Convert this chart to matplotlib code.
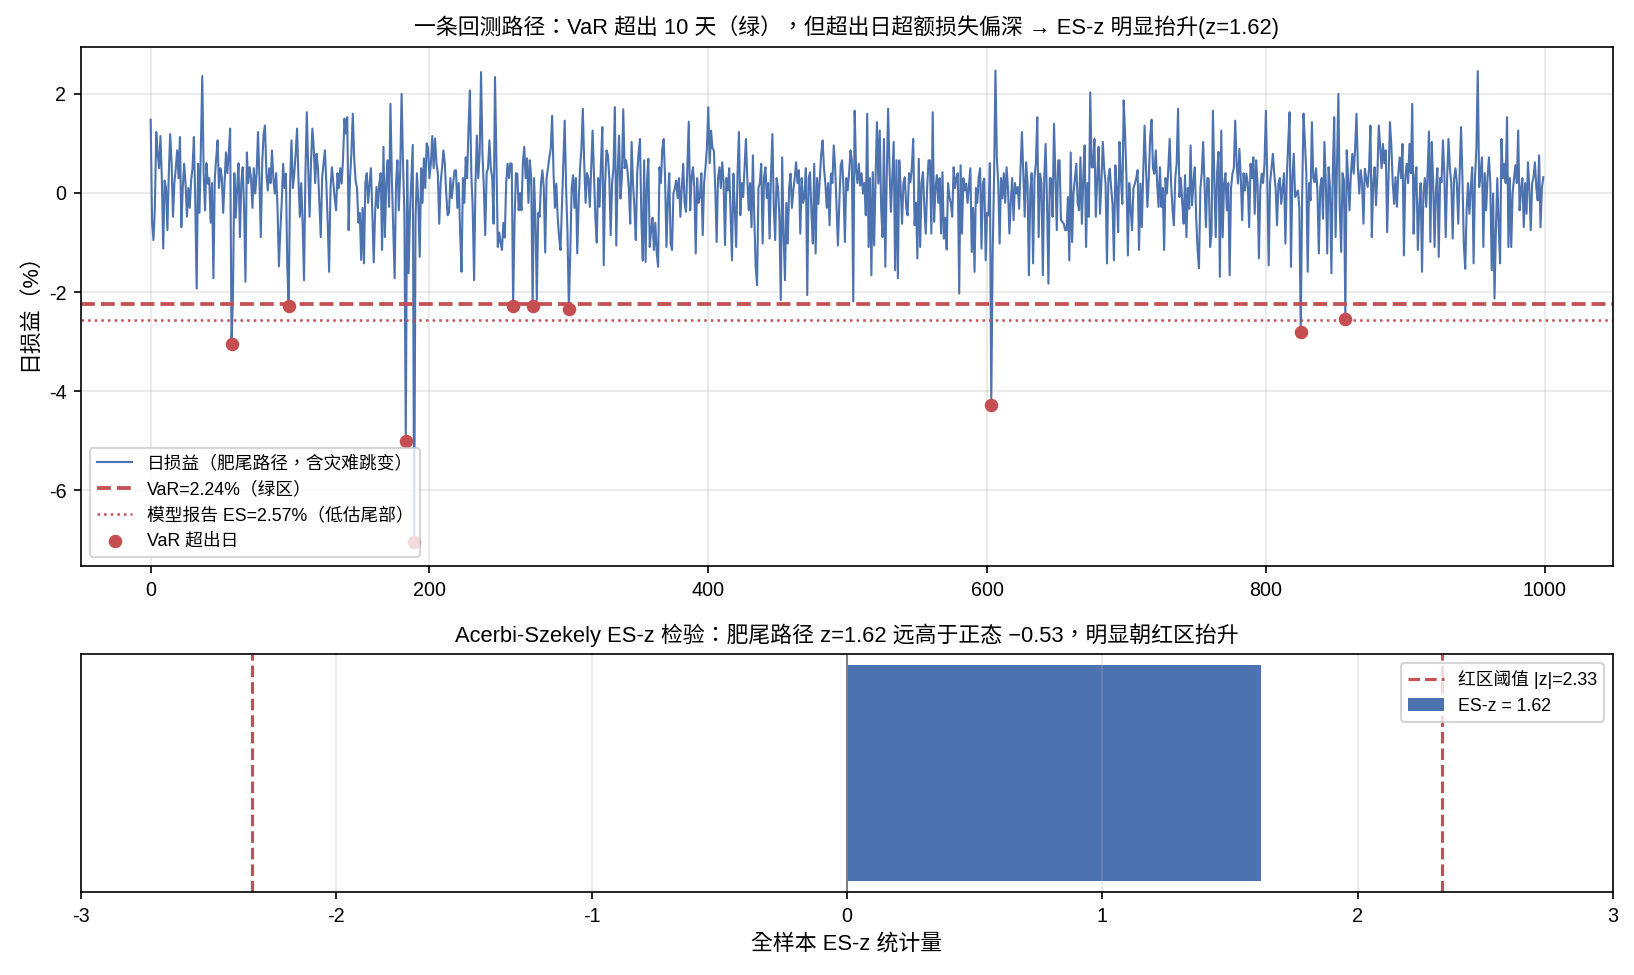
import numpy as np
import matplotlib
matplotlib.use("Agg")
import matplotlib.pyplot as plt

plt.rcParams['font.family'] = ['Liberation Sans', 'Noto Sans CJK TC', 'DejaVu Sans']
plt.rcParams['axes.unicode_minus'] = False

# ---------------- data ----------------
daily_pnl = [
    1.48, -0.6, -0.95, -0.3, 1.23, 0.8, 0.5, 1.15, 0.3, -1.12,
    0.25, 0.1, -0.75, 0.4, 1.19, 0.6, -0.48, 0.2, 0.5, 0.86,
    0.3, 1.13, -0.69, 0.1, 0.59, 0.2, -0.48, 0.1, -0.3, 0.25,
    0.5, 1.13, -0.2, -1.93, 0.59, -0.4, 0.9, 2.36, 0.4, -0.35,
    0.6, 0.19, 0.3, -0.6, 0.2, -1.72, 0.3, 0.7, 1.06, 0.1,
    0.5, 0.32, -0.4, 0.2, 0.82, 0.4, 0.8, 1.3, -3.05, -2.1,
    0.4, -0.5, 0.09, 0.6, -0.89, 0.2, 0.52, -0.3, -1.79, 0.82,
    0.2, 0.52, 0.3, -0.3, 0.5, -0.01, 0.4, 1.23, 0.3, -0.89,
    0.6, 1.19, 1.36, 0.4, 0.05, 0.5, 0.2, 0.86, 0.3, -0.01,
    0.4, -0.3, -1.48, -0.75, -0.2, 0.59, 0.1, 0.39, -1.5, -2.27,
    0.2, 1.06, 0.1, 0.39, 0.8, 1.3, 0.3, -0.48, 0.2, -0.6,
    -1.76, 0.4, 1.63, 0.5, -0.48, 0.6, 1.3, 0.9, 0.2, 0.79,
    0.5, -0.2, -0.89, 0.3, 0.6, 0.86, 0.2, -0.6, -1.59, 0.1,
    0.52, 0.2, -0.1, -0.35, 0.4, 0.1, 0.5, 0.19, 0.7, 1.5,
    1.2, 1.53, -0.75, 0.3, 0.8, 1.6, 0.7, 0.25, 0.1, -0.6,
    -0.4, -1.35, -0.3, -1.42, 0.2, 0.4, -0.2, 0.19, 0.5, -0.4,
    -1.4, -0.4, 0.12, -0.3, 0.19, 0.4, -1.15, 0.93, -0.89, 0.2,
    0.66, -0.28, 1.8, 0.3, -0.75, -1.72, 0.2, 0.66, -0.35, 0.46,
    2.0, 0.6, -0.4, -5.0, 0.66, -1.62, -0.4, 0.3, 0.97, -7.05,
    -0.5, 0.4, -0.2, -1.29, 0.5, -0.2, 0.7, 0.1, 1.0, 0.9,
    0.3, 0.6, 1.15, 0.5, 1.1, 0.6, 0.4, -0.62, 0.2, 0.5,
    0.86, 0.6, 0.0, -0.45, -0.4, 0.3, -0.1, 0.2, 0.45, 0.46,
    -0.3, 0.2, -0.8, -1.59, 0.3, -0.2, 0.72, 0.3, 1.3, 2.07,
    0.4, -0.3, -1.76, 0.2, 1.16, 0.3, 0.8, 2.44, 0.8, 0.1,
    -0.85, 0.4, 0.5, 1.06, 0.5, 0.3, -0.62, 2.34, 0.7, -1.09,
    -0.8, -1.0, -1.15, -0.6, -0.9, 0.2, 0.59, 0.3, 0.6, 0.59,
    -2.27, -0.6, 0.4, 0.39, -0.35, 0.0, -0.35, 0.6, 0.93, 0.3,
    0.7, -0.2, 0.66, 0.3, -2.27, 0.3, -0.5, -2.16, -0.4, -0.48,
    0.2, 0.46, 0.1, -1.2, 0.3, 0.5, 0.72, 0.9, 1.56, 0.4,
    -0.3, 0.19, -0.5, -0.9, -1.15, -0.3, 0.5, 1.46, 0.1, -0.8,
    -2.34, -1.2, 0.1, 0.36, -0.3, 0.3, -1.22, -0.2, 0.5, 0.9,
    1.7, 0.6, -0.2, 0.4, 0.3, -0.28, 0.5, 1.26, 0.4, -0.5,
    -1.0, 0.3, -0.28, 0.6, 1.33, -1.46, 0.2, 0.86, 0.76, 0.3,
    -0.85, 0.2, 0.5, 1.73, -1.06, 0.4, 1.16, -0.11, 0.3, 1.69,
    0.5, 0.66, 0.46, 0.1, -0.62, 1.03, 0.19, -0.3, -0.95, 0.4,
    0.8, 1.09, -0.5, -1.36, 0.66, -1.39, 0.2, 0.69, -1.09, -0.75,
    -0.5, -1.15, -0.6, -1.2, -1.49, 0.52, 0.2, 0.89, 1.09, 0.3,
    -1.09, -0.15, 0.4, -1.02, -1.15, -0.01, 0.1, 0.25, -0.1, 0.3,
    -0.48, 0.1, 0.59, -0.2, -0.38, 0.5, 1.44, -0.35, 0.3, 0.52,
    0.1, -1.22, 0.3, -0.2, -0.08, 0.4, -0.85, 0.2, 0.52, 0.9,
    1.73, 0.6, 1.26, 0.9, 0.86, 0.1, -0.99, 0.3, 0.52, 0.1,
    0.62, 0.2, -1.05, 0.3, 0.05, 0.5, -0.4, -1.36, 0.39, -0.3,
    -1.09, 0.4, 1.23, -0.45, 0.2, -0.08, 0.5, 1.09, 0.3, -0.35,
    0.2, -0.69, 0.76, -0.5, -1.49, -1.86, 0.1, 0.2, 0.59, -1.02,
    0.3, 0.52, -0.1, 0.2, -0.92, 0.4, 1.19, -0.3, -0.95, 0.3,
    0.12, -0.5, -2.16, 0.72, -0.82, -1.76, -0.2, -1.02, 0.1, 0.39,
    -0.3, 0.05, 0.3, 0.62, 0.2, 0.46, -0.82, 0.3, -0.2, -0.08,
    0.5, -2.06, 0.3, 0.42, -0.4, -1.02, 0.59, -1.22, 0.3, -0.22,
    0.3, 0.79, 1.06, 0.5, 0.19, -0.3, 0.2, -0.65, 0.39, 0.2,
    0.96, 0.52, -0.28, -1.06, -0.2, 0.56, 0.66, 0.1, -0.99, 0.3,
    0.05, 0.4, 0.86, 0.66, -2.19, 1.66, 0.5, 0.2, 0.59, 0.15,
    0.4, -0.01, 0.2, -0.45, 1.6, -1.09, 0.3, -1.66, 0.42, -1.06,
    0.3, 1.43, 0.19, 1.26, -0.3, -0.89, 1.09, -1.49, 0.3, 1.7,
    0.5, -0.38, 0.3, 1.03, -1.56, 0.66, -1.72, 0.66, 0.1, -0.62,
    0.2, 0.32, -0.3, -0.45, 0.4, 0.22, 0.5, 1.09, -0.65, -0.2,
    -1.32, 0.69, -1.09, 0.2, 0.42, -0.3, -0.82, 0.1, 0.66, 0.66,
    -0.82, 1.63, -0.58, 0.1, 0.36, -0.2, 0.3, -0.82, 0.42, -0.92,
    -0.5, -1.14, 0.2, -0.08, -0.2, -0.48, 0.52, 0.1, 0.32, 0.4,
    -2.03, 0.56, -0.82, 0.3, 0.05, 0.19, -0.2, 0.15, 0.5, -1.19,
    -0.3, -1.59, 0.1, -0.2, 0.32, 0.5, -1.12, 0.2, 0.29, -1.36,
    -0.4, -0.45, 0.6, -4.28, -1.2, 0.3, 2.47, 0.72, 0.2, -1.02,
    0.3, -0.11, 0.4, -0.2, 0.52, 0.1, -0.82, -0.18, 0.3, -0.55,
    0.2, -0.01, 0.12, -0.32, 0.5, 1.23, 0.4, -0.48, 0.62, 0.2,
    -1.66, 0.05, 0.4, -1.42, 0.3, 0.6, 1.53, -0.89, 0.39, 0.2,
    -1.66, 0.3, 0.99, -0.2, -1.83, 0.3, 0.29, -0.48, 1.4, 0.3,
    -0.75, 0.66, 0.66, -0.55, -0.58, -0.62, -0.75, -0.75, -0.08, -1.36,
    0.82, -0.99, -0.01, 0.3, 0.59, -0.2, -0.35, 0.72, -0.62, 0.3,
    0.96, -1.09, 0.2, -0.48, 2.03, 0.52, 0.52, 1.09, -0.48, 0.3,
    0.93, -0.42, 0.2, 1.03, 0.5, 0.19, -1.42, 0.3, 0.49, 0.1,
    -0.22, -1.36, 0.56, 0.1, -0.79, 1.03, 0.3, -0.22, 1.87, 1.19,
    0.3, -1.26, 0.2, -0.32, -0.75, 0.1, 0.19, 0.3, 0.46, -1.15,
    0.19, -0.69, 0.4, 1.36, 0.5, -0.28, 0.3, 1.13, 1.48, 0.5,
    0.39, 0.86, 0.2, -0.28, 0.52, -0.28, 0.1, -1.15, 0.3, -0.01,
    0.5, 1.09, 0.2, -0.32, -0.65, 0.3, 0.6, 1.7, -0.08, 0.3,
    -0.2, -0.62, 0.36, -0.89, 0.1, -0.32, 0.96, -0.25, 0.2, 0.52,
    -0.5, -1.15, -1.52, 0.09, 0.4, 1.03, 0.2, -0.69, 0.3, 0.29,
    -1.09, -0.82, 1.66, 0.3, -0.89, 0.4, 0.83, -1.69, 1.26, -0.89,
    0.19, 0.4, -0.35, 0.2, -1.66, 0.1, 0.39, 0.5, 1.46, 0.6,
    0.19, 0.89, 0.3, -0.55, 0.4, 0.05, 0.39, 0.2, -0.69, 0.59,
    0.3, 0.72, -0.42, 0.66, 0.2, -1.32, 0.1, 0.39, 0.2, 0.59,
    1.66, 0.3, -1.46, 0.2, 0.5, 0.79, 0.39, 0.1, -0.65, 0.19,
    0.3, -0.22, 0.1, 0.4, -1.02, 0.3, 1.0, 1.63, -1.49, 0.3,
    0.79, -0.08, -0.01, 0.05, -0.3, -2.81, -0.08, 1.6, 1.03, 0.4,
    -1.59, 0.2, -0.15, 1.43, 0.3, 0.22, 0.5, 0.02, -1.22, 0.12,
    0.3, -0.52, 1.03, 0.2, -1.22, 0.52, 0.1, -1.62, 0.4, 1.53,
    -0.89, 0.5, 2.0, -0.3, -1.19, 0.4, 0.25, -2.55, 0.86, 0.3,
    -0.35, 0.4, 0.79, 0.39, 0.9, 1.6, 0.5, -0.01, 0.46, 0.2,
    -0.62, 0.49, 0.3, 0.12, 0.5, 1.36, -0.89, 0.2, 0.52, -0.25,
    0.4, 1.36, 0.93, 0.5, 0.99, 0.6, 0.86, -0.79, 0.3, 1.43,
    0.96, 0.2, -0.22, 0.32, -0.28, 0.4, 0.72, 0.3, 0.99, -1.26,
    0.3, 0.59, 0.2, 0.99, 0.4, 1.8, -0.82, 0.3, 0.52, -1.15,
    -0.28, 0.2, -1.59, -0.01, 0.3, -0.28, 0.4, 1.24, -0.99, 1.03,
    0.2, -1.09, 0.05, 0.5, -1.29, 0.3, 0.22, 1.06, 0.4, -0.89,
    0.3, 1.09, 0.5, 0.2, -0.92, 0.29, 0.5, 0.19, -0.62, 0.4,
    1.33, 0.3, -1.06, -1.53, -0.35, 0.2, -0.42, 0.1, 0.52, -1.42,
    0.3, 0.9, 2.46, 0.12, 0.4, 0.72, -1.09, 0.4, -0.35, 0.3,
    0.72, 0.2, -1.56, -0.01, -2.13, -0.75, 0.3, -0.65, -1.42, 1.09,
    0.3, 0.59, 0.2, 1.53, -1.09, 0.3, -1.09, -0.01, 0.3, 0.56,
    0.2, 1.26, -0.35, 0.05, 0.3, -0.69, 0.2, -0.42, 0.62, 0.1,
    -0.75, 0.2, 0.32, 0.62, 0.1, -0.15, 0.76, -0.69, 0.1, 0.32,
]
var_level = 2.24          # VaR (%)
es_reported = 2.57        # model-reported ES (%)
es_z = 1.62               # fat-tail path ES-z
red_threshold = 2.33      # red zone |z|

BLUE = '#4C72B0'
RED = '#C44E52'

pnl = np.array(daily_pnl)
days = np.arange(len(pnl))
exceed = pnl < -var_level

fig = plt.figure(figsize=(1634 / 150, 975 / 150), dpi=150)
ax1 = fig.add_axes([0.0496, 0.4195, 0.9375, 0.5323])
ax2 = fig.add_axes([0.0496, 0.0851, 0.9375, 0.2441])

# ---- top panel ----
ax1.plot(days, pnl, color=BLUE, lw=1.0, label='日损益（肥尾路径，含灾难跳变）')
ax1.axhline(-var_level, color=RED, ls='--', lw=1.8, label=f'VaR={var_level:.2f}%（绿区）')
ax1.axhline(-es_reported, color=RED, ls=':', lw=1.2, label=f'模型报告 ES={es_reported:.2f}%（低估尾部）')
ax1.scatter(days[exceed], pnl[exceed], color=RED, s=30, zorder=5, label='VaR 超出日')
ax1.set_ylabel('日损益（%）', fontsize=10.5)
ax1.set_title('一条回测路径：VaR 超出 10 天（绿），但超出日超额损失偏深 → ES-z 明显抬升(z=1.62)',
              fontsize=10.5)
ax1.grid(alpha=0.3)
ax1.tick_params(labelsize=9.5)
ax1.legend(loc='lower left', fontsize=8.5)

# ---- bottom panel ----
ax2.axvline(0, color='gray', lw=1)
ax2.axvline(-red_threshold, color=RED, ls='--', lw=1.5, label=f'红区阈值 |z|={red_threshold:.2f}')
ax2.axvline(red_threshold, color=RED, ls='--', lw=1.5)
ax2.barh([0], [es_z], height=0.8, color=BLUE, label=f'ES-z = {es_z:.2f}')
ax2.set_xlim(-3, 3)
ax2.set_yticks([])
ax2.grid(axis='x', alpha=0.3)
ax2.set_xlabel('全样本 ES-z 统计量', fontsize=10.5)
ax2.set_title('Acerbi-Szekely ES-z 检验：肥尾路径 z=1.62 远高于正态 −0.53，明显朝红区抬升', fontsize=10.5)
ax2.tick_params(labelsize=9.5)
ax2.legend(loc='upper right', fontsize=8.5)

fig.savefig('out.png', dpi=150)
